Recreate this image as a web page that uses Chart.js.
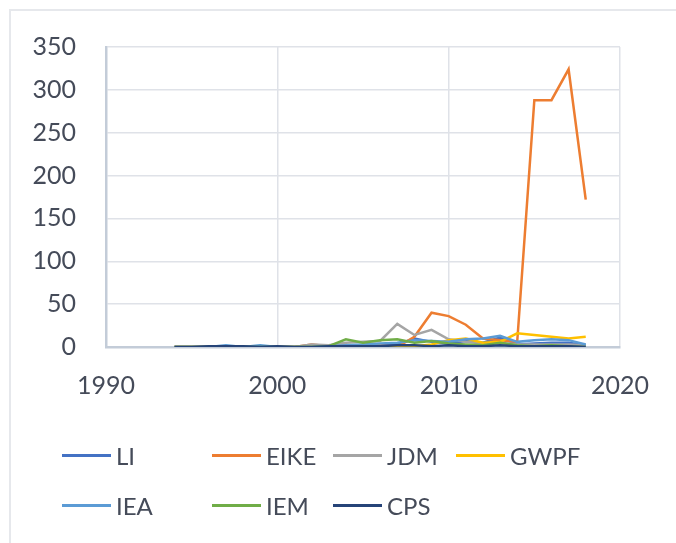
<!DOCTYPE html>
<html>
<head>
<meta charset="utf-8">
<script src="https://cdn.jsdelivr.net/npm/chart.js@4"></script>
<style>
  html, body { margin: 0; padding: 0; background: #fff; }
  body { width: 676px; height: 543px; position: relative; overflow: hidden; font-family: Lato, sans-serif; }
  .frame { position: absolute; left: 9px; top: 9px; width: 700px; height: 560px; border-top: 2px solid #e6e8ec; border-left: 2px solid #e6e8ec; }
  #chart-box { position: absolute; left: 0; top: 0; width: 676px; height: 543px; }
  .legend-item { position: absolute; height: 30px; display: flex; align-items: center; color: #454b59; font-size: 24px; }
  .legend-item span.line { display: inline-block; width: 49px; height: 3px; margin-right: 5px; }
</style>
</head>
<body>
<div class="frame"></div>
<div id="chart-box"><canvas id="my-chart" width="676" height="543"></canvas></div>
<div id="legend"></div>
<script>
const years = [1994, 1995, 1996, 1997, 1998, 1999, 2000, 2001, 2002, 2003, 2004, 2005, 2006,
  2007, 2008, 2009, 2010, 2011, 2012, 2013, 2014, 2015, 2016, 2017, 2018];

const li =   [0, 0, 0, 1, 0, 1, 0, 0, 0, 0, 1, 1, 2, 3, 10, 6, 4, 7, 5, 11, 3, 4, 5, 5, 2];
const eike = [0, 0, 0, 0, 0, 0, 0, 0, 3, 1, 2, 2, 2, 0, 12, 40, 36, 26, 10, 8, 6, 288, 288, 324, 172];
const jdm =  [0, 0, 0, 0, 0, 0, 0, 0, 3, 2, 5, 6, 7, 27, 14, 20, 9, 6, 4, 5, 3, 3, 3, 3, 2];
const gwpf = [0, 0, 0, 0, 0, 0, 0, 0, 0, 0, 0, 0, 0, 0, 1, 3, 8, 10, 5, 6, 16, 14, 12, 10, 12];
const iea =  [0, 0, 0, 2, 0, 2, 0, 0, 0, 1, 2, 3, 4, 5, 8, 7, 6, 9, 10, 13, 6, 8, 9, 8, 3];
const iem =  [0, 0, 0, 0, 0, 0, 0, 0, 0, 1, 9, 5, 8, 9, 5, 7, 4, 3, 2, 5, 2, 1, 2, 1, 0];
const cps =  [0, 0, 1, 1, 1, 0, 1, 0, 0, 1, 1, 1, 1, 2, 2, 1, 2, 1, 1, 2, 1, 1, 1, 1, 0];

const xTicks = [1990, 2000, 2010, 2020];
const yTicks = [0, 50, 100, 150, 200, 250, 300, 350];

const series = [
  { label: 'LI', values: li, color: '#4472C4' },
  { label: 'EIKE', values: eike, color: '#ED7D31' },
  { label: 'JDM', values: jdm, color: '#A5A5A5' },
  { label: 'GWPF', values: gwpf, color: '#FFC000' },
  { label: 'IEA', values: iea, color: '#5B9BD5' },
  { label: 'IEM', values: iem, color: '#70AD47' },
  { label: 'CPS', values: cps, color: '#264478' }
];

const tickColor = '#454b59';

const ctx = document.getElementById('my-chart').getContext('2d');
const chart = new Chart(ctx, {
  type: 'line',
  data: {
    datasets: series.map((s, i) => ({
      label: s.label,
      data: years.map((y, j) => ({ x: y, y: s.values[j] })),
      borderColor: s.color,
      backgroundColor: s.color,
      borderWidth: 2.5,
      pointRadius: 0,
      tension: 0,
      order: series.length - i
    }))
  },
  options: {
    responsive: false,
    animation: false,
    layout: { padding: { left: 0, top: 47, right: 56, bottom: 136 } },
    plugins: { legend: { display: false }, tooltip: { enabled: false } },
    scales: {
      x: {
        type: 'linear',
        min: 1990,
        max: 2020,
        afterBuildTicks: (scale) => { scale.ticks = xTicks.map(v => ({ value: v })); },
        afterFit: (scale) => { scale.height = 60; },
        grid: { color: '#dfe2e8', lineWidth: 1.5, drawTicks: false },
        border: { color: '#c3ccd8', width: 2.5 },
        ticks: { color: tickColor, font: { family: 'Lato', size: 25 }, padding: 24, callback: v => v, maxRotation: 0 }
      },
      y: {
        min: 0,
        max: 350,
        afterBuildTicks: (scale) => { scale.ticks = yTicks.map(v => ({ value: v })); },
        afterFit: (scale) => { scale.width = 106; },
        grid: { color: '#dfe2e8', lineWidth: 1.5, drawTicks: false },
        border: { color: '#c3ccd8', width: 2.5 },
        ticks: { color: tickColor, font: { family: 'Lato', size: 25 }, padding: 30 }
      }
    }
  }
});

// legend laid out like the original, two rows
const legendCols = [62, 212, 333, 456];
const legendRows = [455, 505];
const legendBox = document.getElementById('legend');
chart.data.datasets.forEach((ds, i) => {
  const item = document.createElement('div');
  item.className = 'legend-item';
  item.style.left = legendCols[i % 4] + 'px';
  item.style.top = (legendRows[Math.floor(i / 4)] - 15) + 'px';
  item.innerHTML = '<span class="line" style="background:' + ds.borderColor + '"></span>' + ds.label;
  legendBox.appendChild(item);
});
</script>
</body>
</html>
